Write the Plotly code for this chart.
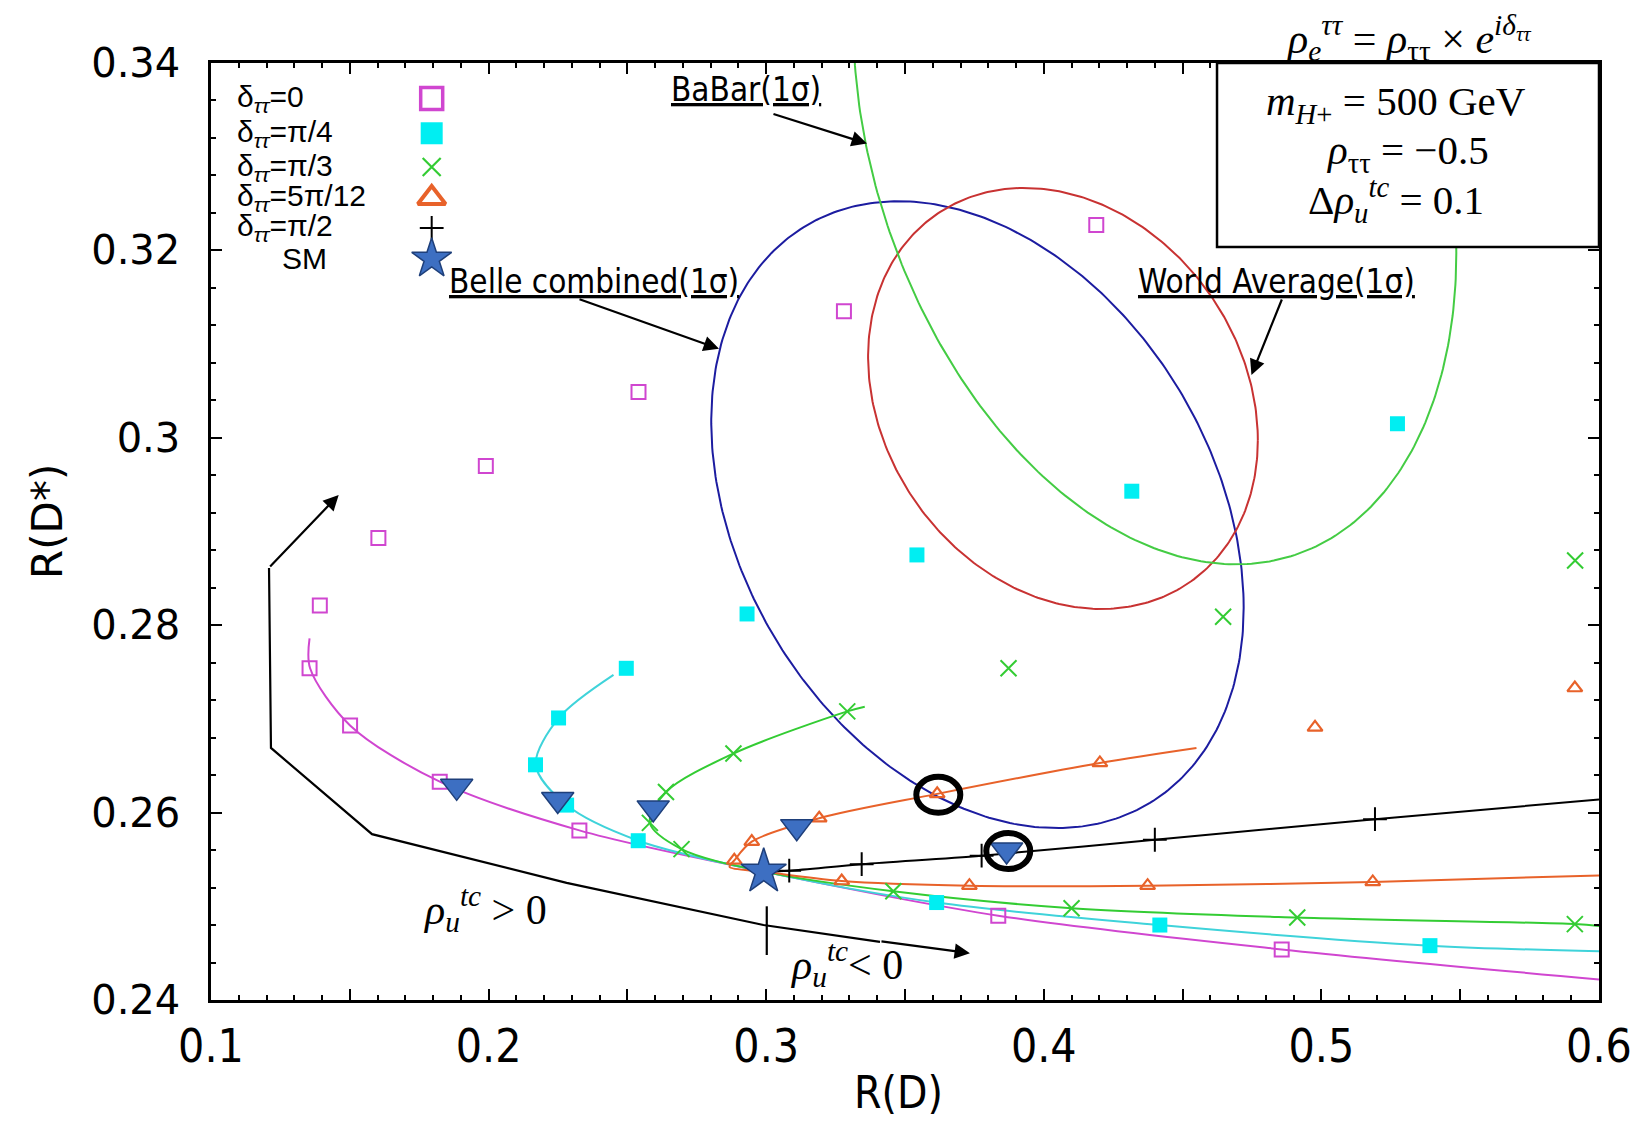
import numpy as np
import plotly.graph_objects as go

# ---------------- data ----------------
# delta_tautau = 0  (magenta open squares)
d0_x = [0.4189, 0.3280, 0.2540, 0.1990, 0.1603, 0.1392, 0.1355, 0.1501, 0.1824, 0.2327, 0.3836, 0.4857]
d0_y = [0.3227, 0.3135, 0.3049, 0.2970, 0.2893, 0.2821, 0.2754, 0.2693, 0.2633, 0.2581, 0.2490, 0.2454]
d0_line_x = [0.1355, 0.1357, 0.1501, 0.1824, 0.2327, 0.2991, 0.3836, 0.4857, 0.6000]
d0_line_y = [0.2786, 0.2754, 0.2693, 0.2633, 0.2581, 0.2537, 0.2490, 0.2454, 0.2422]

# delta_tautau = pi/4  (cyan filled squares)
d1_x = [0.5274, 0.4317, 0.3543, 0.2931, 0.2496, 0.2252, 0.2169, 0.2281, 0.2539, 0.3614, 0.4418, 0.5391]
d1_y = [0.3015, 0.2943, 0.2875, 0.2812, 0.2754, 0.2701, 0.2651, 0.2608, 0.2570, 0.2504, 0.2480, 0.2458]
d1_line_x = [0.2450, 0.2253, 0.2170, 0.2281, 0.2539, 0.2991, 0.3614, 0.4418, 0.5391, 0.6000]
d1_line_y = [0.2747, 0.2701, 0.2651, 0.2608, 0.2570, 0.2537, 0.2504, 0.2480, 0.2458, 0.2452]

# delta_tautau = pi/3  (green crosses)
d2_x = [0.5914, 0.4646, 0.3873, 0.3292, 0.2882, 0.2639, 0.2581, 0.2695, 0.3458, 0.4100, 0.4913, 0.5913]
d2_y = [0.2869, 0.2809, 0.2754, 0.2708, 0.2663, 0.2622, 0.2589, 0.2561, 0.2516, 0.2498, 0.2488, 0.2481]
d2_line_x = [0.3355, 0.3292, 0.2882, 0.2639, 0.2581, 0.2695, 0.2991, 0.3458, 0.4100, 0.4913, 0.5913, 0.6000]
d2_line_y = [0.2713, 0.2708, 0.2663, 0.2622, 0.2589, 0.2561, 0.2537, 0.2516, 0.2498, 0.2488, 0.2481, 0.2479]

# delta_tautau = 5pi/12  (orange open triangles)
d3_x = [0.5913, 0.4977, 0.4202, 0.3616, 0.3191, 0.2948, 0.2885, 0.3272, 0.3732, 0.4374, 0.5185]
d3_y = [0.2733, 0.2691, 0.2653, 0.2620, 0.2594, 0.2569, 0.2549, 0.2527, 0.2522, 0.2522, 0.2526]
d3_line_x = [0.4550, 0.4202, 0.3616, 0.3191, 0.2948, 0.2885, 0.2868, 0.2991, 0.3272, 0.3732, 0.4374, 0.5185, 0.6000]
d3_line_y = [0.2669, 0.2653, 0.2620, 0.2594, 0.2569, 0.2549, 0.2542, 0.2537, 0.2527, 0.2522, 0.2522, 0.2526, 0.2533]

# delta_tautau = pi/2  (black plus)
d4_x = [0.3083, 0.3344, 0.3776, 0.4400, 0.5193]
d4_y = [0.2538, 0.2545, 0.2554, 0.2571, 0.2593]
d4_line_x = [0.2991, 0.3083, 0.3344, 0.3776, 0.4400, 0.5193, 0.6000]
d4_line_y = [0.2537, 0.2538, 0.2545, 0.2554, 0.2571, 0.2593, 0.2614]

# blue down-triangles
tri_x = [0.1885, 0.2249, 0.2593, 0.3110, 0.3866]
tri_y = [0.2628, 0.2614, 0.2605, 0.2585, 0.2560]

# Standard Model point
sm_x = [0.2991]
sm_y = [0.2537]

# highlighted points (black rings)
ring_x = [0.3620, 0.3872]
ring_y = [0.2619, 0.2559]

# 1-sigma ellipses: centre, half extents, correlation
ell_names = ["Belle", "WorldAvg", "BaBar"]
ell_cx = [0.3761, 0.4069, 0.4400]
ell_cy = [0.2918, 0.3042, 0.3320]
ell_sx = [0.0959, 0.0702, 0.1086]
ell_sy = [0.03345, 0.02247, 0.0455]
ell_rho = [-0.297, -0.198, -0.27]

x_tick_vals = [0.1, 0.15, 0.2, 0.25, 0.3, 0.35, 0.4, 0.45, 0.5, 0.55, 0.6]
x_tick_text = ["0.1", "", "0.2", "", "0.3", "", "0.4", "", "0.5", "", "0.6"]
y_tick_vals = [0.24, 0.26, 0.28, 0.30, 0.32, 0.34]
y_tick_text = ["0.24", "0.26", "0.28", "0.3", "0.32", "0.34"]

# guide polyline (rho_u^tc direction)
guide_x = [0.1209, 0.1216, 0.1580, 0.2281, 0.2990, 0.3410]
guide_y = [0.2861, 0.2669, 0.2577, 0.2525, 0.2480, 0.2462]
guide_tick_x = [0.3002, 0.3002]
guide_tick_y = [0.2448, 0.2500]

# ---------------- styles ----------------
MAG = "#d046d0"
CYN = "#00eef2"
CYN_L = "#3fd3da"
GRN = "#33cc33"
ORG = "#e8622a"
BLU = "#3d6fc2"
BLU_E = "#1e3f7a"
ell_colors = ["#1c1ca0", "#c83232", "#44cc44"]

SANS_N = "Liberation Sans Narrow, DejaVu Sans Condensed, Roboto Condensed, Liberation Sans, sans-serif"
SERIF = "Liberation Serif, DejaVu Serif, serif"

fig = go.Figure()

# ellipses
for i in range(len(ell_names)):
    t = np.linspace(0, 2 * np.pi, 400)
    phi = np.arccos(ell_rho[i])
    ex = ell_cx[i] + ell_sx[i] * np.cos(t)
    ey = ell_cy[i] + ell_sy[i] * np.cos(t + phi)
    fig.add_trace(go.Scatter(x=ex, y=ey, mode="lines",
                             line=dict(color=ell_colors[i], width=2), showlegend=False,
                             hoverinfo="skip"))

# model curves
curves = [
    (d0_line_x, d0_line_y, MAG),
    (d1_line_x, d1_line_y, CYN_L),
    (d2_line_x, d2_line_y, GRN),
    (d3_line_x, d3_line_y, ORG),
    (d4_line_x, d4_line_y, "black"),
]
for cx, cy, col in curves:
    fig.add_trace(go.Scatter(x=cx, y=cy, mode="lines",
                             line=dict(color=col, width=2, shape="spline", smoothing=0.9),
                             showlegend=False, hoverinfo="skip"))

# guide polyline
fig.add_trace(go.Scatter(x=guide_x, y=guide_y, mode="lines",
                         line=dict(color="black", width=2.2), showlegend=False, hoverinfo="skip"))
fig.add_trace(go.Scatter(x=guide_tick_x, y=guide_tick_y, mode="lines",
                         line=dict(color="black", width=2.2), showlegend=False, hoverinfo="skip"))

# markers
fig.add_trace(go.Scatter(x=d0_x, y=d0_y, mode="markers",
                         marker=dict(symbol="square-open", size=14, color=MAG, line=dict(color=MAG, width=2)),
                         name="δττ=0", showlegend=False))
fig.add_trace(go.Scatter(x=d1_x, y=d1_y, mode="markers",
                         marker=dict(symbol="square", size=15, color=CYN, line=dict(width=0)),
                         name="δττ=π/4", showlegend=False))
fig.add_trace(go.Scatter(x=d2_x, y=d2_y, mode="markers",
                         marker=dict(symbol="x-thin-open", size=16, color=GRN, line=dict(color=GRN, width=2)),
                         name="δττ=π/3", showlegend=False))
fig.add_trace(go.Scatter(x=d3_x, y=d3_y, mode="markers",
                         marker=dict(symbol="triangle-up-open", size=13, color=ORG, line=dict(color=ORG, width=2.2)),
                         name="δττ=5π/12", showlegend=False))
fig.add_trace(go.Scatter(x=d4_x, y=d4_y, mode="markers",
                         marker=dict(symbol="cross-thin-open", size=17, color="black", line=dict(color="black", width=2)),
                         name="δττ=π/2", showlegend=False))
fig.add_trace(go.Scatter(x=tri_x, y=tri_y, mode="markers",
                         marker=dict(symbol="triangle-down", size=28, color=BLU, line=dict(color=BLU_E, width=1.5)),
                         showlegend=False))
fig.add_trace(go.Scatter(x=sm_x, y=sm_y, mode="markers",
                         marker=dict(symbol="star", size=34, color=BLU, line=dict(color=BLU_E, width=1.5)),
                         name="SM", showlegend=False))

# legend (text left, key symbol right), placed inside the frame top-left
leg_text = ["δ<sub><i>ττ</i></sub>=0", "δ<sub><i>ττ</i></sub>=π/4", "δ<sub><i>ττ</i></sub>=π/3",
            "δ<sub><i>ττ</i></sub>=5π/12", "δ<sub><i>ττ</i></sub>=π/2", "SM"]
leg_row_y = [0.3362, 0.3325, 0.3289, 0.3256, 0.3224, 0.3191]
leg_text_x = [0.1085, 0.1085, 0.1085, 0.1085, 0.1085, 0.1250]
leg_key_x = 0.1795
leg_keys = [
    dict(symbol="square-open", size=22, color=MAG, line=dict(color=MAG, width=3.5)),
    dict(symbol="square", size=22, color=CYN, line=dict(width=0)),
    dict(symbol="x-thin-open", size=18, color=GRN, line=dict(color=GRN, width=2.2)),
    dict(symbol="triangle-up-open", size=24, color=ORG, line=dict(color=ORG, width=4)),
    dict(symbol="cross-thin-open", size=17, color="black", line=dict(color="black", width=2)),
    dict(symbol="star", size=30, color=BLU, line=dict(color=BLU_E, width=1.5)),
]
for i, mk in enumerate(leg_keys):
    fig.add_trace(go.Scatter(x=[leg_key_x], y=[leg_row_y[i]], mode="markers", marker=mk,
                             showlegend=False, hoverinfo="skip", cliponaxis=False))

annotations = []
for i, txt in enumerate(leg_text):
    annotations.append(dict(x=leg_text_x[i], y=leg_row_y[i], xref="x", yref="y", text=txt,
                            showarrow=False, xanchor="left", yanchor="middle",
                            font=dict(family="Liberation Sans, Arial, sans-serif", size=30, color="black")))

# experiment labels with arrows
lab_font = dict(family=SANS_N, size=33, color="black")
annotations += [
    dict(x=0.3363, y=0.3314, xref="x", yref="y", ax=-95, ay=-30, text="", showarrow=True,
         arrowhead=2, arrowsize=1.4, arrowwidth=2.2, arrowcolor="black"),
    dict(x=0.2830, y=0.3095, xref="x", yref="y", ax=-141, ay=-50, text="", showarrow=True,
         arrowhead=2, arrowsize=1.4, arrowwidth=2.2, arrowcolor="black"),
    dict(x=0.4748, y=0.3067, xref="x", yref="y", ax=31, ay=-77, text="", showarrow=True,
         arrowhead=2, arrowsize=1.4, arrowwidth=2.2, arrowcolor="black"),
    dict(x=0.1460, y=0.2939, xref="x", yref="y", ax=-70, ay=73, text="", showarrow=True,
         arrowhead=2, arrowsize=1.4, arrowwidth=2.2, arrowcolor="black"),
    dict(x=0.3734, y=0.2450, xref="x", yref="y", ax=-90, ay=-12, text="", showarrow=True,
         arrowhead=2, arrowsize=1.4, arrowwidth=2.2, arrowcolor="black"),
    dict(x=0.2928, y=0.3372, xref="x", yref="y", text="<u>BaBar(1σ)</u>", showarrow=False,
         xanchor="center", yanchor="middle", font=lab_font),
    dict(x=0.2380, y=0.3167, xref="x", yref="y", text="<u>Belle combined(1σ)</u>", showarrow=False,
         xanchor="center", yanchor="middle", font=lab_font),
    dict(x=0.4838, y=0.3167, xref="x", yref="y", text="<u>World Average(1σ)</u>", showarrow=False,
         xanchor="center", yanchor="middle", font=lab_font),
    dict(x=0.1986, y=0.2497, xref="x", yref="y",
         text="<i>ρ</i><sub><i>u</i></sub><sup><i>tc</i></sup> &gt; 0", showarrow=False,
         xanchor="center", yanchor="middle", font=dict(family=SERIF, size=42, color="black")),
    dict(x=0.3288, y=0.2438, xref="x", yref="y",
         text="<i>ρ</i><sub><i>u</i></sub><sup><i>tc</i></sup>&lt; 0", showarrow=False,
         xanchor="center", yanchor="middle", font=dict(family=SERIF, size=42, color="black")),
    # parameter box contents
    dict(x=0.8631, y=1.0265, xref="paper", yref="paper",
         text="<i>ρ</i><sub><i>e</i></sub><sup><i>ττ</i></sup> = <i>ρ</i><sub>ττ</sub> × <i>e</i><sup><i>iδ</i><sub><i>ττ</i></sub></sup>",
         showarrow=False, xanchor="center", yanchor="middle", font=dict(family=SERIF, size=42, color="black")),
    dict(x=0.8537, y=0.9562, xref="paper", yref="paper",
         text="<i>m</i><sub><i>H</i>+</sub> = 500 GeV",
         showarrow=False, xanchor="center", yanchor="middle", font=dict(family=SERIF, size=41, color="black")),
    dict(x=0.8617, y=0.9040, xref="paper", yref="paper",
         text="<i>ρ</i><sub>ττ</sub> = −0.5",
         showarrow=False, xanchor="center", yanchor="middle", font=dict(family=SERIF, size=41, color="black")),
    dict(x=0.8537, y=0.8538, xref="paper", yref="paper",
         text="Δ<i>ρ</i><sub><i>u</i></sub><sup><i>tc</i></sup> = 0.1",
         showarrow=False, xanchor="center", yanchor="middle", font=dict(family=SERIF, size=41, color="black")),
    # axis titles
    dict(x=-0.1182, y=0.5112, xref="paper", yref="paper", text="R(D*)", textangle=-90,
         showarrow=False, xanchor="center", yanchor="middle",
         font=dict(family="DejaVu Sans, Verdana, sans-serif", size=42, color="black")),
    dict(x=0.495, y=-0.0990, xref="paper", yref="paper", text="R(D)",
         showarrow=False, xanchor="center", yanchor="middle",
         font=dict(family=SANS_N, size=44, color="black")),
]

shapes = [
    dict(type="rect", xref="paper", yref="paper", x0=0.7248, x1=1.0, y0=0.8036, y1=1.0,
         fillcolor="white", line=dict(color="black", width=2.5), layer="above"),
]
# highlight rings (pixel sized ellipses anchored at data points)
for rx, ry in zip(ring_x, ring_y):
    shapes.append(dict(type="circle", xref="x", yref="y", xsizemode="pixel", ysizemode="pixel",
                       xanchor=rx, yanchor=ry, x0=-22, x1=22, y0=-18, y1=18,
                       line=dict(color="black", width=6)))

fig.update_layout(
    width=1634, height=1123,
    margin=dict(l=211, r=35, t=63, b=123, autoexpand=False),
    paper_bgcolor="white", plot_bgcolor="white",
    showlegend=False,
    annotations=annotations,
    shapes=shapes,
    xaxis=dict(range=[0.1, 0.6], tickmode="array", tickvals=x_tick_vals, ticktext=x_tick_text,
               ticks="inside", ticklen=11, tickwidth=2, tickcolor="black", automargin=False,
               showline=True, linewidth=2.5, linecolor="black", mirror="ticks",
               showgrid=False, zeroline=False, ticklabelstandoff=4,
               tickfont=dict(family=SANS_N, size=46, color="black"),
               minor=dict(dtick=0.01, tick0=0.1, ticks="inside", ticklen=5, tickwidth=1.5,
                          tickcolor="black", showgrid=False)),
    yaxis=dict(range=[0.24, 0.34], tickmode="array", tickvals=y_tick_vals, ticktext=y_tick_text,
               ticks="inside", ticklen=11, tickwidth=2, tickcolor="black", automargin=False,
               showline=True, linewidth=2.5, linecolor="black", mirror="ticks",
               showgrid=False, zeroline=False, ticklabelstandoff=20,
               tickfont=dict(family="DejaVu Sans, Verdana, sans-serif", size=40, color="black"),
               minor=dict(dtick=0.004, tick0=0.24, ticks="inside", ticklen=5, tickwidth=1.5,
                          tickcolor="black", showgrid=False)),
)

fig.write_html("out.html", config={"displayModeBar": False},
               post_script="document.body.style.margin='0';document.body.style.padding='0';")
